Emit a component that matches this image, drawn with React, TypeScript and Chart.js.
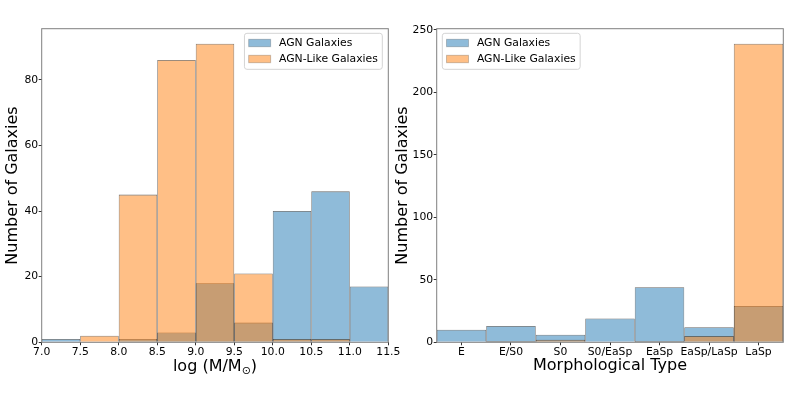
import React, { useEffect, useRef } from 'react';
import { Chart, registerables } from 'chart.js';

Chart.register(...registerables);

// ---------- data ----------
const massBinEdges = [7.0, 7.5, 8.0, 8.5, 9.0, 9.5, 10.0, 10.5, 11.0, 11.5];
const agnMassCounts = [1, 0, 1, 3, 18, 6, 40, 46, 17];
const agnLikeMassCounts = [0, 2, 45, 86, 91, 21, 1, 1, 0];
const massYTicks = [0, 20, 40, 60, 80];

const morphTypes = ['E', 'E/S0', 'S0', 'S0/EaSp', 'EaSp', 'EaSp/LaSp', 'LaSp'];
const agnMorphCounts = [10, 13, 6, 19, 44, 12, 29];
const agnLikeMorphCounts = [0, 1, 2, 0, 1, 5, 239];
const morphYTicks = [0, 50, 100, 150, 200, 250];

const seriesLabels = ['AGN Galaxies', 'AGN-Like Galaxies'];
const yTitle = 'Number of Galaxies';
const morphXTitle = 'Morphological Type';

// ---------- styles ----------
const FONT = '"DejaVu Sans", "Liberation Sans", sans-serif';
const BLUE = 'rgba(31,119,180,0.5)';
const ORANGE = 'rgba(255,127,14,0.5)';
const EDGE = 'rgba(0,0,0,0.6)';
const TICK_SIZE = 10.8;
const W = 789;
const H = 395;
const AREA_TOP = 28.7;
const AREA_BOTTOM = 342.3;

const massCenters = agnMassCounts.map((_, i) => (massBinEdges[i] + massBinEdges[i + 1]) / 2);
const yMaxMass = Math.max(...agnMassCounts, ...agnLikeMassCounts) * 1.05;
const yMaxMorph = Math.max(...agnMorphCounts, ...agnLikeMorphCounts) * 1.05;

const framePlugin = {
  id: 'frame',
  afterDatasetsDraw(chart: any) {
    const { ctx, chartArea: a } = chart;
    ctx.save();
    ctx.strokeStyle = '#7f7f7f';
    ctx.lineWidth = 1;
    ctx.strokeRect(a.left, a.top, a.right - a.left, a.bottom - a.top);
    ctx.restore();
  },
};

const makeLegend = (anchor: 'left' | 'right') => ({
  id: 'boxLegend',
  afterDraw(chart: any) {
    const { ctx, chartArea: a } = chart;
    ctx.save();
    ctx.font = `${TICK_SIZE}px ${FONT}`;
    const textW = Math.max(...seriesLabels.map((l) => ctx.measureText(l).width));
    const w = 34.6 + textW + 4.5;
    const h = 36;
    const x0 = anchor === 'right' ? a.right - 6 - w : a.left + 5.6;
    const y0 = a.top + 4.6;
    ctx.beginPath();
    (ctx as any).roundRect(x0, y0, w, h, 2.5);
    ctx.fillStyle = 'rgba(255,255,255,0.8)';
    ctx.fill();
    ctx.strokeStyle = '#d4d4d4';
    ctx.lineWidth = 1;
    ctx.stroke();
    const fills = [BLUE, ORANGE];
    seriesLabels.forEach((label, i) => {
      const cy = y0 + 9.7 + i * 16;
      ctx.fillStyle = fills[i];
      ctx.fillRect(x0 + 4.2, cy - 3.7, 22, 7.4);
      ctx.strokeStyle = 'rgba(0,0,0,0.2)';
      ctx.strokeRect(x0 + 4.2, cy - 3.7, 22, 7.4);
      ctx.fillStyle = '#000';
      ctx.textBaseline = 'middle';
      ctx.textAlign = 'left';
      ctx.fillText(label, x0 + 34.6, cy);
    });
    ctx.restore();
  },
});

const massTitlePlugin = {
  id: 'massTitle',
  afterDraw(chart: any) {
    const { ctx, chartArea: a } = chart;
    ctx.save();
    const main = `16px ${FONT}`;
    const sub = `11px ${FONT}`;
    const parts: [string, string, number][] = [
      ['log (M/M', main, 0],
      ['\u2299', sub, 2.6],
      [')', main, 0],
    ];
    let total = 0;
    const widths = parts.map(([t, f]) => {
      ctx.font = f;
      const m = ctx.measureText(t).width;
      total += m;
      return m;
    });
    let x = (a.left + a.right) / 2 - total / 2;
    const baseY = a.bottom + 29.0;
    ctx.fillStyle = '#000';
    ctx.textBaseline = 'alphabetic';
    ctx.textAlign = 'left';
    parts.forEach(([t, f, dy], i) => {
      ctx.font = f;
      ctx.fillText(t, x, baseY + dy);
      x += widths[i];
    });
    ctx.restore();
  },
};

const tickFont = { family: FONT, size: TICK_SIZE };
const titleFont = { family: FONT, size: 16 };
const gridOpts = {
  display: true,
  drawOnChartArea: false,
  drawTicks: true,
  tickLength: 3,
  tickColor: '#333',
  tickWidth: 1,
  offset: false,
};

export default function App() {
  const leftRef = useRef<HTMLCanvasElement>(null);
  const rightRef = useRef<HTMLCanvasElement>(null);

  useEffect(() => {
    document.body.style.margin = '0';
    const barCommon = {
      borderColor: EDGE,
      borderWidth: { top: 0.8, left: 0.7, right: 0.7, bottom: 0 },
      inflateAmount: 0,
      grouped: false,
      barPercentage: 1,
      categoryPercentage: 1,
    };

    const left = new Chart(leftRef.current as HTMLCanvasElement, {
      type: 'bar',
      data: {
        datasets: [
          {
            label: seriesLabels[0],
            data: massCenters.map((x, i) => ({ x, y: agnMassCounts[i] })),
            backgroundColor: BLUE,
            order: 2,
            ...barCommon,
          },
          {
            label: seriesLabels[1],
            data: massCenters.map((x, i) => ({ x, y: agnLikeMassCounts[i] })),
            backgroundColor: ORANGE,
            order: 1,
            ...barCommon,
          },
        ],
      } as any,
      options: {
        responsive: false,
        animation: false,
        devicePixelRatio: 1,
        layout: { padding: { left: 0, top: AREA_TOP, right: W - 388.3, bottom: 0 } },
        plugins: { legend: { display: false }, tooltip: { enabled: false } },
        scales: {
          x: {
            type: 'linear',
            min: massBinEdges[0],
            max: massBinEdges[massBinEdges.length - 1],
            offset: false,
            ticks: {
              callback: (v: any) => Number(v).toFixed(1),
              font: tickFont,
              color: '#000',
              padding: 0,
              maxRotation: 0,
              autoSkip: false,
            },
            afterBuildTicks: (s: any) => {
              s.ticks = massBinEdges.map((v) => ({ value: v }));
            },
            grid: gridOpts,
            border: { display: false },
            afterFit: (s: any) => {
              s.height = H - AREA_BOTTOM;
              s.paddingLeft = 0;
              s.paddingRight = 0;
            },
          },
          y: {
            min: 0,
            max: yMaxMass,
            ticks: { font: tickFont, color: '#000', padding: 0.5 },
            afterBuildTicks: (s: any) => {
              s.ticks = massYTicks.map((v) => ({ value: v }));
            },
            grid: gridOpts,
            border: { display: false },
            title: { display: true, text: yTitle, font: titleFont, color: '#000', padding: { top: 3.6, bottom: 0 } },
            afterFit: (s: any) => {
              s.width = 41.7;
              s.paddingTop = 0;
              s.paddingBottom = 0;
            },
          },
        },
      } as any,
      plugins: [framePlugin, makeLegend('right'), massTitlePlugin],
    });

    const right = new Chart(rightRef.current as HTMLCanvasElement, {
      type: 'bar',
      data: {
        labels: morphTypes,
        datasets: [
          { label: seriesLabels[0], data: agnMorphCounts, backgroundColor: BLUE, order: 2, ...barCommon },
          { label: seriesLabels[1], data: agnLikeMorphCounts, backgroundColor: ORANGE, order: 1, ...barCommon },
        ],
      } as any,
      options: {
        responsive: false,
        animation: false,
        devicePixelRatio: 1,
        layout: { padding: { left: 392, top: AREA_TOP, right: W - 783.3, bottom: 0 } },
        plugins: { legend: { display: false }, tooltip: { enabled: false } },
        scales: {
          x: {
            type: 'category',
            offset: true,
            ticks: { font: tickFont, color: '#000', padding: 0, maxRotation: 0, autoSkip: false },
            grid: gridOpts,
            border: { display: false },
            title: { display: true, text: morphXTitle, font: titleFont, color: '#000', padding: { top: 0, bottom: 19.6 } },
            afterFit: (s: any) => {
              s.height = H - AREA_BOTTOM;
              s.paddingLeft = 0;
              s.paddingRight = 0;
            },
          },
          y: {
            min: 0,
            max: yMaxMorph,
            ticks: { font: tickFont, color: '#000', padding: 0.5 },
            afterBuildTicks: (s: any) => {
              s.ticks = morphYTicks.map((v) => ({ value: v }));
            },
            grid: gridOpts,
            border: { display: false },
            title: { display: true, text: yTitle, font: titleFont, color: '#000', padding: { top: 1.2, bottom: 0 } },
            afterFit: (s: any) => {
              s.width = 44.7;
              s.paddingTop = 0;
              s.paddingBottom = 0;
            },
          },
        },
      } as any,
      plugins: [framePlugin, makeLegend('left')],
    });

    return () => {
      left.destroy();
      right.destroy();
    };
  }, []);

  const canvasStyle: React.CSSProperties = { position: 'absolute', left: 0, top: 0, width: W, height: H };
  return (
    <div style={{ position: 'fixed', left: 0, top: 0, width: W, height: H, background: '#fff' }}>
      <canvas ref={leftRef} width={W} height={H} style={canvasStyle} />
      <canvas ref={rightRef} width={W} height={H} style={canvasStyle} />
    </div>
  );
}
